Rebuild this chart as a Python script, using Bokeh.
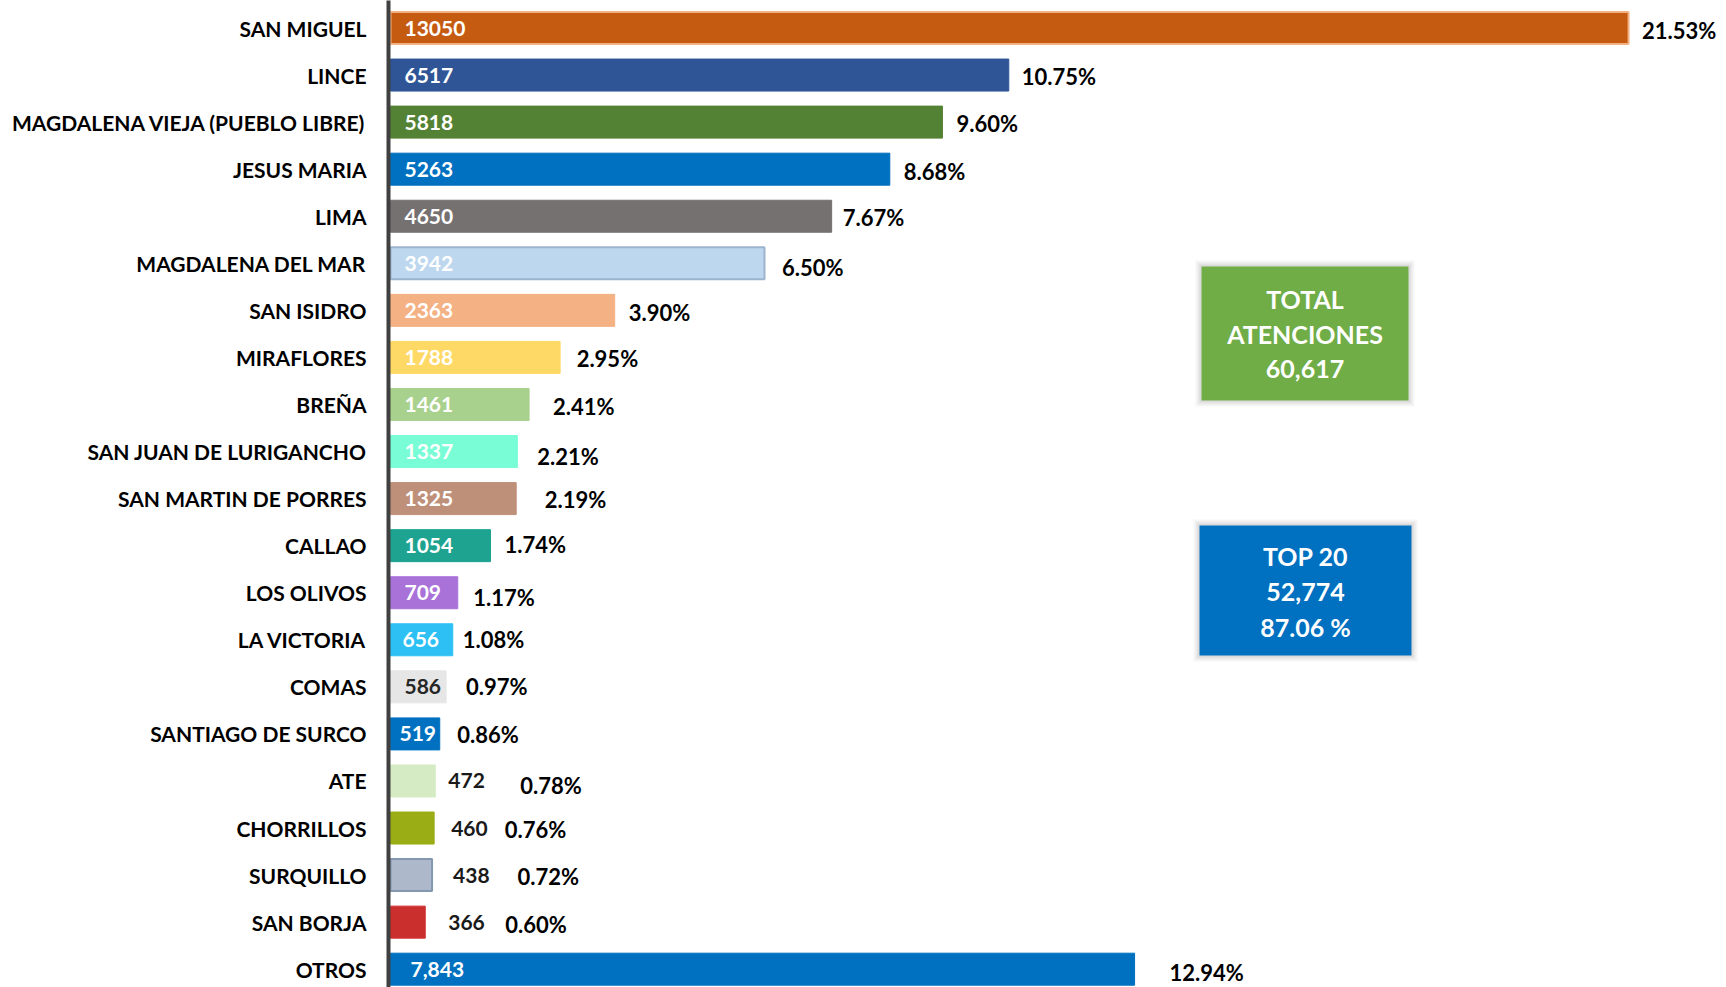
from bokeh.plotting import figure
from bokeh.models import Range1d, BoxAnnotation, Label, ColumnDataSource, FixedTicker
from bokeh.core.properties import value
from bokeh.embed import file_html
from bokeh.resources import INLINE

# ---------------- data ----------------
districts = ["SAN MIGUEL", "LINCE", "MAGDALENA VIEJA (PUEBLO LIBRE)", "JESUS MARIA", "LIMA",
             "MAGDALENA DEL MAR", "SAN ISIDRO", "MIRAFLORES", "BREÑA", "SAN JUAN DE LURIGANCHO",
             "SAN MARTIN DE PORRES", "CALLAO", "LOS OLIVOS", "LA VICTORIA", "COMAS",
             "SANTIAGO DE SURCO", "ATE", "CHORRILLOS", "SURQUILLO", "SAN BORJA", "OTROS"]
attentions = [13050, 6517, 5818, 5263, 4650, 3942, 2363, 1788, 1461, 1337, 1325, 1054,
              709, 656, 586, 519, 472, 460, 438, 366, 7843]
total_attentions = 60617
top20_count = 52774
top20_share = 87.06

# ---------------- styles ----------------
bar_colors = ["#C55A11", "#2F5597", "#548235", "#0070C0", "#767171", "#BDD7EE", "#F4B183",
              "#FFD966", "#A9D18E", "#78FDD6", "#BE9079", "#1FA391", "#A972D8", "#2CC0F4",
              "#E7E6E6", "#0070C0", "#D5EBC4", "#9AAD15", "#ADB9CA", "#CB2F2D", "#0070C0"]
bar_borders = ["#F4B183", "#2F5597", "#548235", "#0070C0", "#767171", "#9DB4CF", "#F4B183",
               "#FFD966", "#A9D18E", "#78FDD6", "#BE9079", "#1FA391", "#A972D8", "#2CC0F4",
               "#E7E6E6", "#0070C0", "#D5EBC4", "#9AAD15", "#8497B0", "#CB2F2D", "#0070C0"]
border_widths = [2, 1, 1, 1, 1, 2, 1, 1, 1, 1, 1, 1, 1, 1, 1, 1, 1, 1, 2, 1, 1]
value_inside = [True] * 16 + [False] * 4 + [True]
value_colors = ["#FFFFFF"] * 14 + ["#262626", "#FFFFFF"] + ["#1A1A1A"] * 4 + ["#FFFFFF"]
value_dx = [14, 14, 14, 14, 14, 14, 14, 14, 14, 14, 14, 14, 14, 12, 14, 9, 13, 17, 21, 23, 20]
pct_dx = [13.5, 13, 14, 14, 11, 17.5, 14, 16.5, 24, 20, 28.5, 14, 15.5, 10, 20, 17.5, 85, 70.5, 85.5, 80, 35]
pct_dy = [2, 1, 1, 2, 1, 4.5, 2, 1, 2, 4.5, 1, -1, 4.5, 0, 0, 1, 4.5, 1, 1, 2, 3.5]

FONT = "Lato"
W, H = 1726, 987
LEFT = 388
SX = 0.09487        # px per unit
PITCH = 47.06       # px per row
X0 = -2 / SX
X1 = X0 + (W - LEFT) / SX
Y_TOP = -27.5 / PITCH
Y_BOT = Y_TOP + H / PITCH

n = len(districts)
ys = list(range(n))
pct_text = [f"{v / total_attentions * 100:.2f}%" for v in attentions]
val_text = [f"{v:,}" if d == "OTROS" else str(v) for d, v in zip(districts, attentions)]
val_x = [0 if inside else v for inside, v in zip(value_inside, attentions)]

src = ColumnDataSource(dict(
    y=ys, v=attentions, color=bar_colors, border=bar_borders, bw=border_widths,
    vx=val_x, vt=val_text, vc=value_colors, vdx=value_dx,
    py=[y + d / PITCH for y, d in zip(ys, pct_dy)], pt=pct_text, pdx=pct_dx,
))

p = figure(width=W, height=H, output_backend="svg", toolbar_location=None,
           x_range=Range1d(X0, X1), y_range=Range1d(Y_BOT, Y_TOP),
           x_axis_location=None, y_axis_location="left",
           min_border_left=LEFT, min_border_right=0, min_border_top=0, min_border_bottom=0)
p.outline_line_color = None
p.xgrid.grid_line_color = None
p.ygrid.grid_line_color = None
p.background_fill_color = "white"
p.border_fill_color = "white"

ax = p.yaxis[0]
ax.ticker = FixedTicker(ticks=ys)
ax.major_label_overrides = {i: d for i, d in enumerate(districts)}
ax.major_tick_line_color = None
ax.minor_tick_line_color = None
ax.major_tick_out = 0
ax.major_tick_in = 0
ax.axis_line_color = "#404040"
ax.axis_line_width = 4
ax.major_label_standoff = 22
ax.major_label_text_font = FONT
ax.major_label_text_font_style = "bold"
ax.major_label_text_font_size = "21px"
ax.major_label_text_color = "#000000"

p.hbar(y="y", left=0, right="v", height=0.68, source=src,
       fill_color="color", line_color="border", line_width="bw")

p.text(x="vx", y="y", text="vt", source=src, x_offset="vdx",
       text_font=value(FONT), text_font_style="bold", text_font_size="21px",
       text_color="vc", text_align="left", text_baseline="middle")

p.text(x="v", y="py", text="pt", source=src, x_offset="pdx",
       text_font=value(FONT), text_font_style="bold", text_font_size="22px",
       text_color="#000000", text_align="left", text_baseline="middle")


def dx(fx):
    return X0 + (fx - LEFT) / SX


def dy(fy):
    return Y_TOP + fy / PITCH


def info_box(l, r, t, b, color, lines, line_ys):
    for grow, alpha in [(6, 0.07), (4, 0.10), (2, 0.14)]:
        p.add_layout(BoxAnnotation(left=dx(l - grow), right=dx(r + grow),
                                   top=dy(t - grow), bottom=dy(b + grow),
                                   fill_color="#808080", fill_alpha=alpha, line_color=None))
    p.add_layout(BoxAnnotation(left=dx(l), right=dx(r), top=dy(t), bottom=dy(b),
                               fill_color=color, fill_alpha=1.0, line_color=None))
    cx = dx((l + r) / 2)
    for txt, ly in zip(lines, line_ys):
        p.add_layout(Label(x=cx, y=dy(ly), text=txt, text_align="center", text_baseline="middle",
                           text_font=FONT, text_font_style="bold", text_font_size="25px",
                           text_color="white"))


info_box(1201, 1408, 266, 400, "#70AD47",
         ["TOTAL", "ATENCIONES", f"{total_attentions:,}"], [298.5, 333.5, 368.5])
info_box(1199, 1411, 525, 655, "#0070C0",
         ["TOP 20", f"{top20_count:,}", f"{top20_share:.2f} %"], [555, 591, 626.5])

open("out.html", "w").write(file_html(p, INLINE))
